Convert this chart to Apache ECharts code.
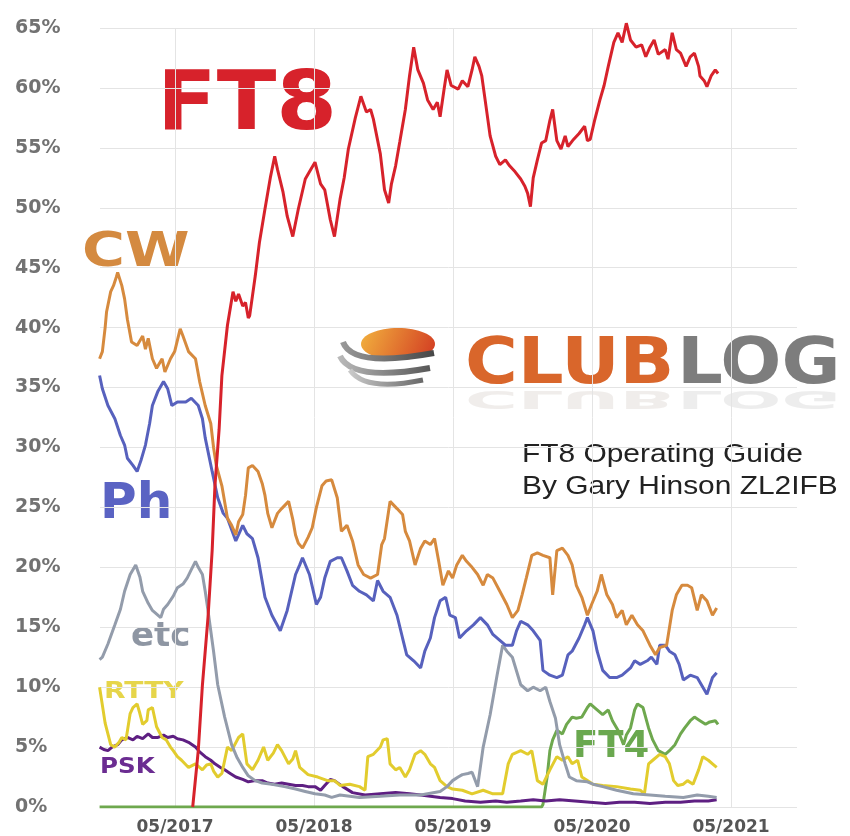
<!DOCTYPE html>
<html>
<head>
<meta charset="utf-8">
<script src="https://cdn.jsdelivr.net/npm/echarts@6/dist/echarts.min.js"></script>
<style>
  html, body { margin: 0; padding: 0; background: #fff; }
  #chart { width: 850px; height: 836px; }
</style>
</head>
<body>
<div id="chart"></div>
<script>
// x values are decimal years, y values are % share of QSOs
const tickYears = [2017, 2018, 2019, 2020, 2021];

const ft8 = [
  [2017.46, 0], [2017.50, 4.7], [2017.53, 10.2], [2017.57, 15.8], [2017.60, 21.4], [2017.62, 26.8],
  [2017.65, 31.5], [2017.67, 36], [2017.71, 40.2], [2017.75, 43], [2017.77, 42.2], [2017.79, 42.8],
  [2017.82, 41.8], [2017.84, 42.1], [2017.86, 40.8], [2017.87, 41], [2017.91, 44.3], [2017.94, 47.1],
  [2017.98, 49.9], [2018.02, 52.6], [2018.05, 54.3], [2018.07, 53.2], [2018.11, 51.3], [2018.14, 49.3],
  [2018.18, 47.6], [2018.22, 49.9], [2018.27, 52.4], [2018.30, 53], [2018.34, 53.8], [2018.38, 52],
  [2018.41, 51.5], [2018.45, 49], [2018.48, 47.6], [2018.52, 50.7], [2018.55, 52.5], [2018.58, 54.9],
  [2018.63, 57.5], [2018.67, 59.3], [2018.71, 58], [2018.74, 58.2], [2018.76, 57.4], [2018.81, 54.5],
  [2018.84, 51.5], [2018.87, 50.4], [2018.89, 52], [2018.92, 53.5], [2018.95, 55.5], [2018.99, 58.2],
  [2019.02, 61], [2019.05, 63.4], [2019.08, 61.5], [2019.12, 60.4], [2019.15, 59], [2019.19, 58.2],
  [2019.22, 58.8], [2019.24, 57.6], [2019.27, 60], [2019.29, 61.5], [2019.32, 60.2], [2019.37, 59.9],
  [2019.40, 60.6], [2019.44, 60.1], [2019.47, 61.5], [2019.49, 62.6], [2019.52, 61.8], [2019.54, 61],
  [2019.57, 58.5], [2019.60, 56], [2019.64, 54.3], [2019.67, 53.6], [2019.71, 54], [2019.74, 53.5],
  [2019.78, 53], [2019.82, 52.4], [2019.85, 51.8], [2019.87, 51.2], [2019.89, 50.1], [2019.91, 52.5],
  [2019.94, 54], [2019.97, 55.4], [2020.00, 55.6], [2020.03, 57.3], [2020.05, 58.2], [2020.08, 55.6],
  [2020.11, 54.9], [2020.14, 56], [2020.16, 55.1], [2020.20, 55.7], [2020.24, 56.2], [2020.28, 56.8],
  [2020.30, 55.6], [2020.32, 55.7], [2020.35, 57.2], [2020.39, 59], [2020.42, 60.2], [2020.45, 61.8],
  [2020.49, 63.8], [2020.52, 64.6], [2020.55, 63.8], [2020.58, 65.4], [2020.61, 64], [2020.65, 63.4],
  [2020.69, 63.6], [2020.72, 62.6], [2020.75, 63.4], [2020.78, 64], [2020.81, 62.8], [2020.86, 63.2],
  [2020.88, 62.4], [2020.91, 64.6], [2020.94, 63.2], [2020.97, 62.9], [2021.01, 61.8], [2021.04, 62.6],
  [2021.07, 62.9], [2021.10, 61.8], [2021.11, 61], [2021.14, 60.6], [2021.16, 60.1], [2021.19, 61],
  [2021.22, 61.5], [2021.24, 61.2]
];

const cw = [
  [2016.79, 37.4], [2016.81, 38], [2016.83, 40], [2016.84, 41.3], [2016.87, 43], [2016.89, 43.5],
  [2016.91, 44.2], [2016.92, 44.6], [2016.95, 43.5], [2016.97, 42.4], [2016.99, 40.7], [2017.02, 38.8],
  [2017.06, 38.5], [2017.10, 39.3], [2017.12, 38.2], [2017.14, 39.1], [2017.17, 37.4], [2017.20, 36.6],
  [2017.24, 37.4], [2017.26, 36.3], [2017.30, 37.4], [2017.33, 38], [2017.37, 39.9], [2017.39, 39.3],
  [2017.43, 38], [2017.48, 37.4], [2017.51, 35.5], [2017.55, 33.5], [2017.59, 32], [2017.61, 30],
  [2017.63, 28.5], [2017.67, 26.8], [2017.71, 24.1], [2017.74, 23.5], [2017.77, 22.7], [2017.79, 23.8],
  [2017.82, 24.4], [2017.84, 26], [2017.86, 28.3], [2017.89, 28.5], [2017.93, 28], [2017.96, 27],
  [2017.98, 26], [2018.00, 24.5], [2018.03, 23.3], [2018.07, 24.5], [2018.10, 24.9], [2018.15, 25.5],
  [2018.18, 24], [2018.20, 22.7], [2018.22, 22], [2018.25, 21.6], [2018.29, 22.5], [2018.32, 23.3],
  [2018.35, 25], [2018.39, 26.8], [2018.42, 27.2], [2018.46, 27.3], [2018.50, 25.8], [2018.53, 23],
  [2018.57, 23.5], [2018.61, 22.2], [2018.65, 20.2], [2018.69, 19.4], [2018.74, 19.1], [2018.79, 19.4],
  [2018.82, 21.9], [2018.84, 22.4], [2018.88, 25.5], [2018.93, 24.9], [2018.97, 24.4], [2018.99, 23],
  [2019.02, 22.2], [2019.06, 20.2], [2019.10, 21.6], [2019.13, 22.2], [2019.17, 21.9], [2019.20, 22.4],
  [2019.23, 20.5], [2019.26, 18.5], [2019.30, 19.7], [2019.33, 19.1], [2019.36, 20.2], [2019.40, 21],
  [2019.43, 20.5], [2019.47, 20], [2019.51, 19.4], [2019.55, 18.5], [2019.58, 19.4], [2019.62, 19.1],
  [2019.67, 18], [2019.72, 16.9], [2019.76, 15.8], [2019.80, 16.4], [2019.83, 17.7], [2019.86, 19.1],
  [2019.90, 21], [2019.94, 21.2], [2019.98, 21], [2020.03, 20.8], [2020.05, 17.7], [2020.08, 21.4],
  [2020.12, 21.6], [2020.16, 21], [2020.19, 20.2], [2020.22, 18.5], [2020.26, 17.5], [2020.30, 16],
  [2020.33, 16.9], [2020.37, 18], [2020.40, 19.4], [2020.44, 17.7], [2020.48, 16.9], [2020.51, 15.8],
  [2020.55, 16.4], [2020.58, 15.2], [2020.62, 16], [2020.66, 15.2], [2020.70, 14.7], [2020.75, 13.5],
  [2020.79, 12.7], [2020.82, 13.3], [2020.87, 13.5], [2020.91, 16.4], [2020.94, 17.7], [2020.98, 18.5],
  [2021.02, 18.5], [2021.05, 18.3], [2021.09, 16.4], [2021.12, 17.7], [2021.16, 17.2], [2021.20, 16],
  [2021.23, 16.6]
];

const ph = [
  [2016.79, 36], [2016.81, 34.9], [2016.85, 33.5], [2016.90, 32.4], [2016.94, 31], [2016.97, 30.2],
  [2016.99, 29.1], [2017.03, 28.5], [2017.06, 28], [2017.09, 29], [2017.12, 30.2], [2017.15, 32],
  [2017.17, 33.5], [2017.21, 34.7], [2017.25, 35.5], [2017.28, 34.9], [2017.31, 33.5], [2017.35, 33.8],
  [2017.41, 33.8], [2017.45, 34.1], [2017.50, 33.5], [2017.53, 32.4], [2017.55, 30.8], [2017.60, 28],
  [2017.64, 25.8], [2017.68, 24.5], [2017.71, 24.1], [2017.77, 22.2], [2017.82, 23.5], [2017.85, 22.8],
  [2017.89, 22.4], [2017.93, 20.8], [2017.98, 17.5], [2018.03, 16], [2018.09, 14.7], [2018.14, 16.4],
  [2018.20, 19.4], [2018.23, 20.2], [2018.25, 20.8], [2018.30, 19.4], [2018.35, 16.9], [2018.38, 17.5],
  [2018.41, 19.1], [2018.45, 20.5], [2018.50, 20.8], [2018.53, 20.8], [2018.57, 19.7], [2018.61, 18.5],
  [2018.66, 18], [2018.71, 17.7], [2018.76, 17.2], [2018.79, 18.9], [2018.83, 18], [2018.88, 17.5],
  [2018.93, 16], [2018.97, 14.1], [2019.00, 12.7], [2019.05, 12.2], [2019.10, 11.6], [2019.13, 13],
  [2019.17, 14.1], [2019.20, 15.8], [2019.24, 17.2], [2019.28, 17.5], [2019.31, 16], [2019.35, 15.8],
  [2019.38, 14.1], [2019.43, 14.7], [2019.48, 15.2], [2019.53, 15.8], [2019.58, 15.2], [2019.62, 14.4],
  [2019.67, 13.9], [2019.71, 13.5], [2019.76, 13.5], [2019.79, 14.7], [2019.82, 15.5], [2019.87, 15.2],
  [2019.91, 14.7], [2019.96, 13.9], [2019.98, 11.4], [2020.03, 11], [2020.08, 10.8], [2020.12, 11],
  [2020.16, 12.7], [2020.19, 13], [2020.24, 14.1], [2020.28, 15.2], [2020.30, 15.8], [2020.34, 14.7],
  [2020.37, 13], [2020.41, 11.4], [2020.46, 10.8], [2020.51, 10.8], [2020.55, 11], [2020.61, 11.6],
  [2020.64, 12.2], [2020.68, 11.9], [2020.73, 12.2], [2020.76, 12.5], [2020.80, 11.9], [2020.82, 13.5],
  [2020.86, 13.5], [2020.89, 13], [2020.93, 12.7], [2020.96, 11.9], [2020.99, 10.6], [2021.04, 11],
  [2021.09, 10.8], [2021.12, 10.2], [2021.16, 9.4], [2021.20, 10.8], [2021.23, 11.2]
];

const etc = [
  [2016.79, 12.3], [2016.81, 12.5], [2016.85, 13.6], [2016.90, 15.2], [2016.94, 16.5], [2016.97, 18],
  [2017.01, 19.4], [2017.05, 20.2], [2017.08, 19.2], [2017.10, 18], [2017.14, 17], [2017.17, 16.4],
  [2017.23, 15.8], [2017.25, 16.5], [2017.28, 16.9], [2017.32, 17.6], [2017.35, 18.3], [2017.39, 18.6],
  [2017.42, 19.1], [2017.45, 19.8], [2017.48, 20.5], [2017.50, 20], [2017.53, 19.4], [2017.55, 18],
  [2017.57, 16.4], [2017.61, 13], [2017.64, 10.2], [2017.69, 7.5], [2017.74, 5.2], [2017.78, 4.1],
  [2017.82, 3.3], [2017.86, 2.6], [2017.91, 2.2], [2017.96, 2.0], [2018.03, 1.9], [2018.12, 1.7],
  [2018.20, 1.5], [2018.27, 1.3], [2018.34, 1.1], [2018.41, 1.0], [2018.46, 0.8], [2018.52, 1.0],
  [2018.66, 0.8], [2018.81, 0.9], [2018.95, 1.0], [2019.10, 1.0], [2019.24, 1.3], [2019.29, 1.7],
  [2019.33, 2.2], [2019.37, 2.5], [2019.40, 2.7], [2019.44, 2.8], [2019.47, 2.9], [2019.51, 1.7],
  [2019.55, 5], [2019.60, 7.7], [2019.65, 11], [2019.69, 13.5], [2019.72, 13], [2019.76, 12.5],
  [2019.82, 10.2], [2019.87, 9.7], [2019.91, 10], [2019.96, 9.7], [2020.00, 10], [2020.03, 8.8],
  [2020.07, 7.4], [2020.10, 5.2], [2020.14, 3.6], [2020.17, 2.5], [2020.22, 2.2], [2020.30, 2.1],
  [2020.34, 1.9], [2020.41, 1.7], [2020.51, 1.4], [2020.63, 1.1], [2020.75, 1.0], [2020.86, 0.9],
  [2020.99, 0.8], [2021.09, 1.0], [2021.17, 0.9], [2021.23, 0.8]
];

const rtty = [
  [2016.79, 10], [2016.81, 8.5], [2016.83, 7], [2016.87, 5.2], [2016.90, 5], [2016.93, 5.4],
  [2016.95, 5.8], [2016.98, 5.6], [2017.01, 7.8], [2017.03, 8.3], [2017.06, 8.6], [2017.08, 7.8],
  [2017.10, 6.9], [2017.13, 7.2], [2017.14, 8.1], [2017.17, 8.3], [2017.20, 6.7], [2017.24, 5.8],
  [2017.27, 5.6], [2017.30, 5.0], [2017.32, 4.7], [2017.35, 4.2], [2017.38, 3.9], [2017.43, 3.3],
  [2017.48, 3.6], [2017.53, 3.1], [2017.56, 3.5], [2017.59, 3.6], [2017.61, 3.0], [2017.64, 2.5],
  [2017.67, 2.8], [2017.71, 5.0], [2017.74, 4.7], [2017.79, 5.8], [2017.82, 6.1], [2017.85, 3.6],
  [2017.89, 3.1], [2017.93, 3.9], [2017.97, 5.0], [2018.00, 3.9], [2018.04, 4.5], [2018.07, 5.2],
  [2018.10, 4.7], [2018.15, 3.6], [2018.18, 4.0], [2018.20, 4.7], [2018.23, 3.3], [2018.29, 2.7],
  [2018.36, 2.5], [2018.43, 2.2], [2018.48, 2.2], [2018.52, 1.8], [2018.59, 1.9], [2018.66, 1.7],
  [2018.70, 1.4], [2018.72, 4.2], [2018.76, 4.4], [2018.81, 5.0], [2018.83, 5.6], [2018.86, 5.7],
  [2018.88, 3.6], [2018.92, 3.1], [2018.95, 3.3], [2018.99, 2.5], [2019.02, 3.1], [2019.06, 4.4],
  [2019.10, 4.7], [2019.13, 4.4], [2019.17, 3.6], [2019.20, 3.3], [2019.24, 2.2], [2019.29, 1.7],
  [2019.33, 1.5], [2019.40, 1.4], [2019.47, 1.1], [2019.55, 1.4], [2019.62, 1.1], [2019.69, 1.1],
  [2019.73, 3.6], [2019.76, 4.4], [2019.82, 4.7], [2019.87, 4.4], [2019.90, 4.7], [2019.94, 2.2],
  [2019.98, 1.9], [2020.03, 3.1], [2020.08, 4.2], [2020.12, 3.9], [2020.16, 4.2], [2020.19, 3.6],
  [2020.23, 3.9], [2020.26, 2.5], [2020.30, 2.2], [2020.34, 1.9], [2020.41, 1.8], [2020.51, 1.7],
  [2020.61, 1.5], [2020.68, 1.4], [2020.71, 1.1], [2020.74, 3.6], [2020.77, 3.9], [2020.82, 4.4],
  [2020.86, 4.2], [2020.89, 3.6], [2020.92, 2.2], [2020.95, 1.8], [2020.99, 1.9], [2021.02, 2.2],
  [2021.06, 1.9], [2021.10, 3.1], [2021.13, 4.2], [2021.17, 3.9], [2021.20, 3.6], [2021.23, 3.3]
];

const psk = [
  [2016.79, 5.0], [2016.82, 4.8], [2016.85, 4.7], [2016.88, 5.0], [2016.92, 5.2], [2016.95, 5.6],
  [2016.99, 5.8], [2017.03, 5.6], [2017.06, 5.9], [2017.10, 5.7], [2017.14, 6.1], [2017.17, 5.8],
  [2017.21, 5.8], [2017.25, 6.0], [2017.28, 5.8], [2017.32, 5.9], [2017.35, 5.7], [2017.39, 5.6],
  [2017.43, 5.4], [2017.48, 5.0], [2017.51, 4.6], [2017.55, 4.2], [2017.59, 3.9], [2017.62, 3.6],
  [2017.66, 3.3], [2017.69, 3.1], [2017.73, 2.8], [2017.77, 2.5], [2017.82, 2.3], [2017.86, 2.1],
  [2017.91, 2.2], [2017.96, 2.2], [2018.00, 2.0], [2018.05, 1.9], [2018.10, 2.0], [2018.15, 1.9],
  [2018.20, 1.8], [2018.25, 1.8], [2018.29, 1.7], [2018.34, 1.7], [2018.38, 1.4], [2018.41, 1.8],
  [2018.45, 2.3], [2018.48, 2.2], [2018.54, 1.7], [2018.61, 1.2], [2018.70, 1.0], [2018.81, 1.1],
  [2018.92, 1.2], [2019.02, 1.1], [2019.10, 1.0], [2019.17, 0.9], [2019.24, 0.8], [2019.33, 0.7],
  [2019.42, 0.5], [2019.53, 0.4], [2019.64, 0.5], [2019.72, 0.4], [2019.82, 0.5], [2019.91, 0.6],
  [2020.00, 0.5], [2020.10, 0.6], [2020.21, 0.5], [2020.32, 0.4], [2020.43, 0.3], [2020.53, 0.4],
  [2020.64, 0.4], [2020.75, 0.3], [2020.86, 0.4], [2020.97, 0.4], [2021.07, 0.5], [2021.17, 0.5],
  [2021.23, 0.6]
];

const ft4 = [
  [2016.79, 0], [2019.97, 0], [2019.98, 0.2], [2020.01, 2.5], [2020.03, 4.7], [2020.05, 5.6],
  [2020.08, 6.4], [2020.12, 6.1], [2020.15, 6.9], [2020.19, 7.5], [2020.22, 7.4], [2020.26, 7.5],
  [2020.30, 8.3], [2020.32, 8.6], [2020.37, 8.1], [2020.41, 7.7], [2020.45, 8.1], [2020.48, 7.2],
  [2020.52, 6.4], [2020.56, 5.2], [2020.58, 6.0], [2020.61, 6.6], [2020.64, 8.1], [2020.66, 8.6],
  [2020.70, 8.3], [2020.74, 6.6], [2020.77, 5.6], [2020.81, 4.7], [2020.86, 4.4], [2020.89, 4.7],
  [2020.93, 5.2], [2020.97, 6.1], [2021.00, 6.6], [2021.04, 7.2], [2021.07, 7.5], [2021.11, 7.2],
  [2021.15, 6.9], [2021.18, 7.1], [2021.22, 7.2], [2021.24, 6.9]
];

const tickValues = tickYears.map(y => y + 4 / 12); // May of each year

const chart = echarts.init(document.getElementById('chart'), null, { renderer: 'canvas' });

function line(name, data, color, clip) {
  return {
    name: name,
    type: 'line',
    data: data,
    showSymbol: false,
    clip: clip,
    lineStyle: { color: color, width: 3 },
    itemStyle: { color: color },
    emphasis: { disabled: true }
  };
}

const labelFont = 'DejaVu Sans, Verdana, sans-serif';

chart.setOption({
  animation: false,
  backgroundColor: '#fff',
  grid: { left: 100, right: 53, top: 28, bottom: 26 },
  xAxis: {
    type: 'value',
    min: 2016.793,
    max: 2021.808,
    axisLine: { show: false },
    axisTick: { show: false, customValues: tickValues },
    splitLine: { show: true, lineStyle: { color: '#e4e4e4', width: 1 } },
    axisLabel: {
      customValues: tickValues,
      formatter: v => '05/' + Math.floor(v),
      color: '#555',
      fontFamily: labelFont,
      fontWeight: 'bold',
      fontSize: 17,
      margin: 12
    }
  },
  yAxis: {
    type: 'value',
    min: 0,
    max: 65,
    interval: 5,
    axisLine: { show: false },
    axisTick: { show: false },
    splitLine: { lineStyle: { color: '#e4e4e4', width: 1 } },
    axisLabel: {
      formatter: '{value}%',
      align: 'left',
      margin: 85,
      padding: [10, 0, 0, 0],
      color: '#727272',
      fontFamily: labelFont,
      fontWeight: 'bold',
      fontSize: 19
    }
  },
  series: [
    line('FT4', ft4, '#6ea84e', true),
    line('PSK', psk, '#5e1f82', true),
    line('RTTY', rtty, '#e2cc2e', true),
    line('etc', etc, '#939cab', true),
    line('Ph', ph, '#5761bd', true),
    line('CW', cw, '#d68a3e', true),
    line('FT8', ft8, '#d7222b', false)
  ],
  graphic: [
    { type: 'text', x: 157, y: 108, scaleX: 1.065,
      style: { text: 'FT8', x: 0, y: 0, fill: '#d7222b', font: 'bold 82px DejaVu Sans', verticalAlign: 'middle' } },
    { type: 'text', x: 82, y: 254, scaleX: 1.22,
      style: { text: 'CW', x: 0, y: 0, fill: '#d48a40', font: 'bold 48px DejaVu Sans', verticalAlign: 'middle' } },
    { type: 'text', x: 100, y: 505, scaleX: 1.0,
      style: { text: 'Ph', x: 0, y: 0, fill: '#5a63c3', font: 'bold 50px DejaVu Sans', verticalAlign: 'middle' } },
    { type: 'text', x: 131, y: 637, scaleX: 1.0,
      style: { text: 'etc', x: 0, y: 0, fill: '#8e96a3', font: 'bold 34px DejaVu Sans', verticalAlign: 'middle' } },
    { type: 'text', x: 104, y: 692, scaleX: 1.22,
      style: { text: 'RTTY', x: 0, y: 0, fill: '#e6d54a', font: 'bold 23px DejaVu Sans', verticalAlign: 'middle' } },
    { type: 'text', x: 100, y: 768, scaleX: 1.17,
      style: { text: 'PSK', x: 0, y: 0, fill: '#6b2c91', font: 'bold 21px DejaVu Sans', verticalAlign: 'middle' } },
    { type: 'text', x: 573, y: 747, scaleX: 1.0,
      style: { text: 'FT4', x: 0, y: 0, fill: '#6aa84f', font: 'bold 37px DejaVu Sans', verticalAlign: 'middle' } },

    // Club Log logo: sphere
    { type: 'ellipse', shape: { cx: 398, cy: 344, rx: 37, ry: 16 },
      style: { fill: new echarts.graphic.LinearGradient(0, 0, 1, 1, [
        { offset: 0, color: '#f2b23e' }, { offset: 1, color: '#d23a22' }]) } },
    { type: 'bezierCurve', shape: { x1: 343, y1: 342, cpx1: 352, cpy1: 368, x2: 434, y2: 353 },
      style: { fill: null, lineWidth: 6, stroke: new echarts.graphic.LinearGradient(0, 0, 1, 0, [
        { offset: 0, color: '#9a9a9a' }, { offset: 1, color: '#444' }]) } },
    { type: 'bezierCurve', shape: { x1: 340, y1: 356, cpx1: 352, cpy1: 382, x2: 430, y2: 368 },
      style: { fill: null, lineWidth: 6, stroke: new echarts.graphic.LinearGradient(0, 0, 1, 0, [
        { offset: 0, color: '#bbb' }, { offset: 1, color: '#555' }]) } },
    { type: 'bezierCurve', shape: { x1: 350, y1: 370, cpx1: 365, cpy1: 392, x2: 423, y2: 380 },
      style: { fill: null, lineWidth: 5, stroke: new echarts.graphic.LinearGradient(0, 0, 1, 0, [
        { offset: 0, color: '#ccc' }, { offset: 1, color: '#666' }]) } },

    // Club Log wordmark and faint reflection
    { type: 'text', x: 465, y: 366, scaleX: 1.125,
      style: { text: 'CLUB', x: 0, y: 0, fill: '#d9662b', font: 'bold 64px DejaVu Sans', verticalAlign: 'middle' } },
    { type: 'text', x: 677, y: 366, scaleX: 1.125,
      style: { text: 'LOG', x: 0, y: 0, fill: '#7d7d7d', font: 'bold 64px DejaVu Sans', verticalAlign: 'middle' } },
    { type: 'text', x: 465, y: 390, scaleX: 1.125, scaleY: -0.4,
      style: { text: 'CLUB', x: 0, y: -19, fill: 'rgba(205,195,190,0.3)', font: 'bold 64px DejaVu Sans', verticalAlign: 'middle' } },
    { type: 'text', x: 677, y: 390, scaleX: 1.125, scaleY: -0.4,
      style: { text: 'LOG', x: 0, y: -19, fill: 'rgba(195,195,195,0.3)', font: 'bold 64px DejaVu Sans', verticalAlign: 'middle' } },

    { type: 'text', x: 522, y: 455, scaleX: 1.15,
      style: { text: 'FT8 Operating Guide', x: 0, y: 0, fill: '#222', font: '26px Liberation Sans', verticalAlign: 'middle' } },
    { type: 'text', x: 522, y: 487, scaleX: 1.15,
      style: { text: 'By Gary Hinson ZL2IFB', x: 0, y: 0, fill: '#222', font: '26px Liberation Sans', verticalAlign: 'middle' } }
  ]
});
</script>
</body>
</html>
